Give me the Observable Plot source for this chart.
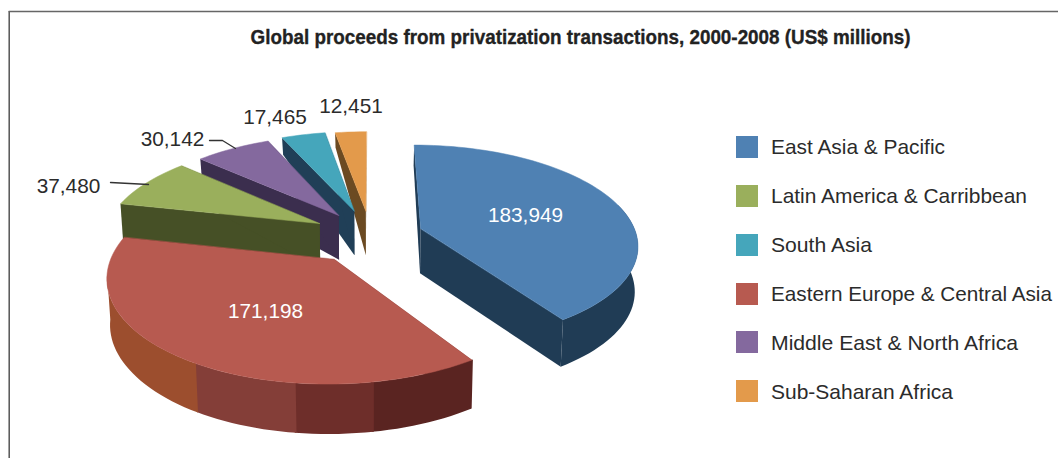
<!DOCTYPE html>
<html>
<head>
<meta charset="utf-8">
<script src="https://cdn.jsdelivr.net/npm/d3@7"></script>
<script src="https://cdn.jsdelivr.net/npm/@observablehq/plot@0.6"></script>
<style>
html,body{margin:0;padding:0;background:#fff}
svg{display:block}
</style>
</head>
<body>
<div id="chart"></div>
<script>
// ---- data, in legend order
const categories = ["East Asia & Pacific","Latin America & Carribbean","South Asia","Eastern Europe & Central Asia","Middle East & North Africa","Sub-Saharan Africa"];
const values = [183949,37480,17465,171198,30142,12451];
const topColors = ["#4f81b3","#9aaf5c","#45a6bb","#b75a50","#84699e","#e39a4b"];
const wallColors = ["#203c55","#465026","#203f57","#5a2421","#3b2e4e","#6b4a22"];
const explodes = [0.245,0.27,0.27,0.285,0.26,0.26];
// clockwise slice order, from the back of the pie
const sliceOrder = ["East Asia & Pacific","Eastern Europe & Central Asia","Latin America & Carribbean","Middle East & North Africa","South Asia","Sub-Saharan Africa"];
const paintOrder = ["Sub-Saharan Africa","South Asia","Middle East & North Africa","Latin America & Carribbean","Eastern Europe & Central Asia","East Asia & Pacific"];
// facets of the red slice wall, and the visible start of the blue one (degrees)
const redFacetBreaks = [146,170,187,211,262];
const redFacetColors = ["#5a2421","#6e2e2a","#843e38","#9c4e2e"];
const blueWallStart = 75;

// ---- layout
const W = 1058, H = 458, cx = 370, cy = 235, rx = 216, ry = 98;
const persp = 0.15;
const titleText = "Global proceeds from privatization transactions, 2000-2008 (US$ millions)";
const valueLabelPos = [[525,215,"#fff"],[68,186,"#2b2b2b"],[274.5,117,"#2b2b2b"],[265,311,"#fff"],[172,139,"#2b2b2b"],[350.5,106,"#2b2b2b"]];
const legendRows = [147,196,245,294,342,391];
const legendTextRows = [146.5,195.5,244.5,293.5,343,392];
const legendWidths = [174,256,101,281,247,182];
const leaders = [[[110,182],[148,184]],[[209,140],[222,140],[235,148]]];

const ux = px => (px-cx)/rx, uy = py => (py-cy)/ry;
const depth = d3.scaleLinear().domain([-1.3,-0.3,0.75,1.25]).range([13,44,47,50]).clamp(true);
const rad = d => d*Math.PI/180;

const idx = n => categories.indexOf(n);
const arcs = d3.pie().sort(null).value(n => values[idx(n)]).startAngle(0)(sliceOrder);
const arcByName = new Map(arcs.map(a => [a.data,a]));

function project(wx, wy){ // wx right, wy toward viewer; unit radius
  const s = 1/(1-persp*wy);
  return {x:wx*s, y:wy*s, wy};
}
function offset(a,d){
  const mid=(a.startAngle+a.endAngle)/2;
  return {ox:d*Math.sin(mid), oy:-d*Math.cos(mid)};
}
function rimPt(o,t){ return project(o.ox+Math.sin(t), o.oy-Math.cos(t)); }
function lower(p){ return {x:p.x*0.988, y:p.y+depth(p.wy)/ry}; }
function arcPts(o,t0,t1){
  const n=Math.max(2,Math.ceil((t1-t0)/rad(2)));
  return d3.range(n+1).map(i=>rimPt(o,t0+(t1-t0)*i/n));
}
function wall(pts){ return [...pts,...pts.slice().reverse().map(lower)]; }

const poly = (pts,color,sw=0) => Plot.line(pts,{x:"x",y:"y",fill:color,stroke:sw?color:"none",strokeWidth:sw,curve:"linear-closed"});

const marks = [];
// frame
marks.push(Plot.ruleX([ux(8.7)],{y1:uy(11),y2:uy(H),stroke:"#555",strokeWidth:1.5}));
marks.push(Plot.ruleY([uy(11)],{x1:ux(8.7),x2:ux(W),stroke:"#666",strokeWidth:1.5}));

for(const name of paintOrder){
  const i = idx(name), a = arcByName.get(name), o = offset(a,explodes[i]);
  const apex = project(o.ox,o.oy);
  const start = rimPt(o,a.startAngle), end = rimPt(o,a.endAngle);
  const wc = wallColors[i];
  marks.push(poly(wall([start,apex]),wc));
  marks.push(poly(wall([apex,end]),wc));
  if(name==="Eastern Europe & Central Asia"){
    redFacetColors.forEach((c,k)=>{
      marks.push(poly(wall(arcPts(o,rad(redFacetBreaks[k]),rad(redFacetBreaks[k+1]+0.4))),c));
    });
  } else if(name==="East Asia & Pacific"){
    marks.push(poly(wall(arcPts(o,rad(blueWallStart),a.endAngle)),wc));
  }
  marks.push(poly([apex,...arcPts(o,a.startAngle,a.endAngle)],topColors[i],0.5));
}

// leader lines
for(const l of leaders){
  marks.push(Plot.line(l,{x:d=>ux(d[0]),y:d=>uy(d[1]),stroke:"#333",strokeWidth:1.3}));
}
const labelFont = "Liberation Sans, Arial, sans-serif";
// value labels
const fmt = d3.format(",");
categories.forEach((c,i)=>{
  const [lx,ly,col]=valueLabelPos[i];
  marks.push(Plot.text([fmt(values[i])],{x:ux(lx),y:uy(ly),text:d=>d,fill:col,fontSize:20.8,fontFamily:labelFont,textAnchor:"middle"}));
});
// legend
marks.push(Plot.rect(categories,{x1:ux(736),x2:ux(758),y1:(d,i)=>uy(legendRows[i]-11),y2:(d,i)=>uy(legendRows[i]+11),fill:(d,i)=>topColors[i]}));
marks.push(Plot.text(categories,{x:ux(770.5),y:(d,i)=>uy(legendTextRows[i]),text:d=>d,textAnchor:"start",fill:"#2b2b2b",fontSize:20.8,fontFamily:labelFont}));
// title
marks.push(Plot.text([titleText],{x:ux(580),y:uy(37),text:d=>d,fontWeight:"bold",fontSize:21,fill:"#222",stroke:"#222",strokeWidth:0.35,fontFamily:labelFont,textAnchor:"middle"}));

const chart = Plot.plot({
  width:W,height:H,margin:0,
  x:{domain:[ux(0),ux(W)],range:[0,W],axis:null},
  y:{domain:[uy(0),uy(H)],range:[0,H],axis:null},
  style:{background:"#fff"},
  marks
});
// fit text widths to the reference's narrower / wider typefaces
chart.querySelectorAll("text").forEach(t=>{
  const s=t.textContent;
  let len=null;
  if(s===titleText) len=660;
  else if(categories.includes(s)) len=legendWidths[categories.indexOf(s)];
  if(len){ t.setAttribute("textLength",len); t.setAttribute("lengthAdjust","spacingAndGlyphs"); }
});
document.getElementById("chart").append(chart);
</script>
</body>
</html>
